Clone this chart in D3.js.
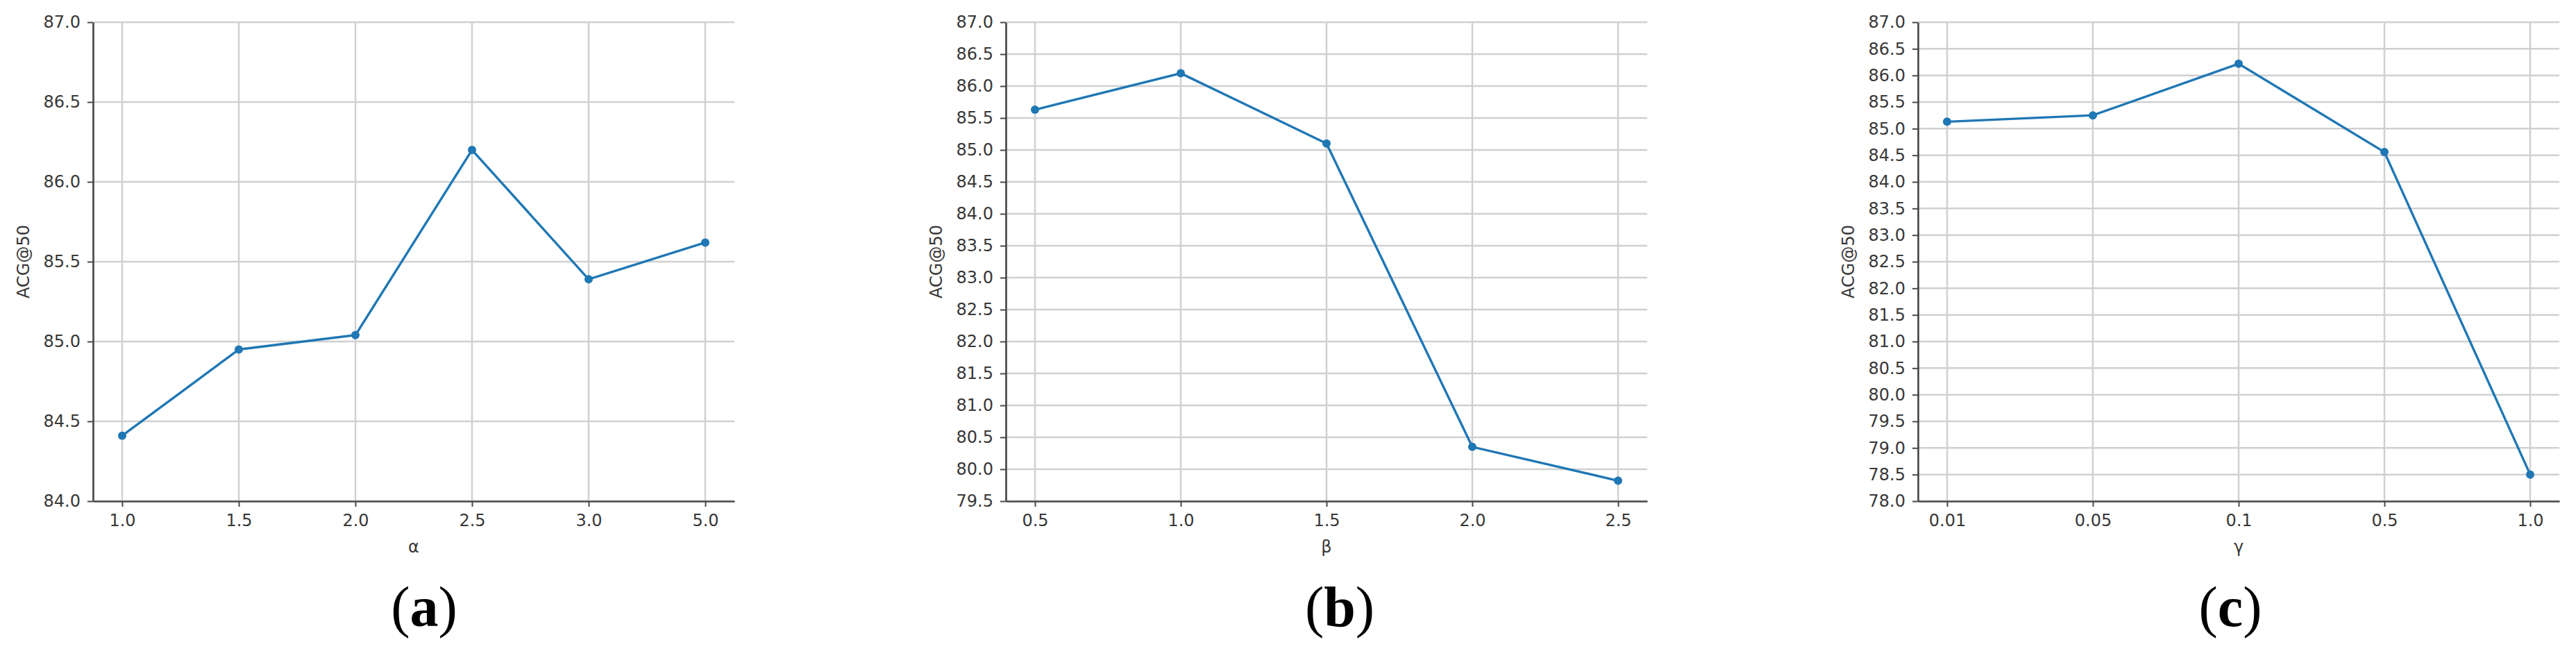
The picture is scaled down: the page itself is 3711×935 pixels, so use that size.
<!DOCTYPE html>
<html>
<head>
<meta charset="utf-8">
<script src="https://cdn.jsdelivr.net/npm/d3@7"></script>
<style>
    body { margin: 0; background: #fff; }
    text { font-family: "DejaVu Sans", sans-serif; }
</style>
</head>
<body>
<div id="main"></div>
<script>
// values
const alphaLabels = ["1.0", "1.5", "2.0", "2.5", "3.0", "5.0"];
const alphaScores = [84.41, 84.95, 85.04, 86.20, 85.39, 85.62];

const betaLabels = ["0.5", "1.0", "1.5", "2.0", "2.5"];
const betaScores = [85.63, 86.20, 85.10, 80.35, 79.82];

const gammaLabels = ["0.01", "0.05", "0.1", "0.5", "1.0"];
const gammaScores = [85.13, 85.25, 86.22, 84.56, 78.50];

const yRanges = [[84, 87], [79.5, 87], [78, 87]];
const axisNames = ["α", "β", "γ"];
const panelNames = ["a", "b", "c"];

const ctx = {
    w: 3711,
    h: 935,
    top: 32,
    bottom: 722,
    // plot left/right edge and panel label centre for each subplot
    lefts: [134, 1449, 2763],
    rights: [1058, 2373, 3687],
    tagX: [611, 1930, 3213],
    blue: "#1f77b4",
    grid: "#d0d0d0",
    ink: "#383838",
    font: 24,
};

function createViz() {
    let svg = d3.select("#main").append("svg")
        .attr("width", ctx.w)
        .attr("height", ctx.h);

    let panels = [
        { labels: alphaLabels, scores: alphaScores },
        { labels: betaLabels, scores: betaScores },
        { labels: gammaLabels, scores: gammaScores },
    ];

    panels.forEach((p, i) => drawPanel(svg, p, i));
}

function drawPanel(svg, p, i) {
    let left = ctx.lefts[i], right = ctx.rights[i];
    let g = svg.append("g").attr("class", "panel");

    // matplotlib style 5% margins on the category axis
    let x = d3.scalePoint()
        .domain(p.labels)
        .range([left, right])
        .padding(0.05 * (p.labels.length - 1));

    let y = d3.scaleLinear()
        .domain(yRanges[i])
        .range([ctx.bottom, ctx.top]);

    let yTicks = d3.range(yRanges[i][0], yRanges[i][1] + 0.001, 0.5);

    // grid
    g.append("g").selectAll("line.h")
        .data(yTicks)
        .enter().append("line")
        .attr("x1", left).attr("x2", right)
        .attr("y1", d => y(d)).attr("y2", d => y(d))
        .style("stroke", ctx.grid)
        .style("stroke-width", 2.5);

    g.append("g").selectAll("line.v")
        .data(p.labels)
        .enter().append("line")
        .attr("x1", d => x(d)).attr("x2", d => x(d))
        .attr("y1", ctx.top).attr("y2", ctx.bottom)
        .style("stroke", ctx.grid)
        .style("stroke-width", 2.5);

    // axes
    let xAxis = g.append("g")
        .attr("transform", `translate(0,${ctx.bottom})`)
        .call(d3.axisBottom(x).tickSize(8).tickPadding(11).tickSizeOuter(0));

    let yAxis = g.append("g")
        .attr("transform", `translate(${left},0)`)
        .call(d3.axisLeft(y).tickValues(yTicks).tickFormat(d3.format(".1f"))
            .tickSize(8).tickPadding(10).tickSizeOuter(0));

    [xAxis, yAxis].forEach(a => {
        a.select(".domain").style("stroke", "#4a4a4a").style("stroke-width", 2.7);
        a.selectAll(".tick line").style("stroke", "#4a4a4a").style("stroke-width", 2);
        a.selectAll(".tick text")
            .style("font-size", ctx.font + "px")
            .style("fill", ctx.ink)
            .style("font-family", "DejaVu Sans");
    });

    // line + markers
    let line = d3.line()
        .x((d, k) => x(p.labels[k]))
        .y(d => y(d));

    g.append("path")
        .datum(p.scores)
        .attr("d", line)
        .style("fill", "none")
        .style("stroke", ctx.blue)
        .style("stroke-width", 3.4);

    g.selectAll("circle")
        .data(p.scores)
        .enter().append("circle")
        .attr("cx", (d, k) => x(p.labels[k]))
        .attr("cy", d => y(d))
        .attr("r", 6)
        .style("fill", ctx.blue);

    // axis titles
    g.append("text")
        .attr("x", (left + right) / 2)
        .attr("y", 796)
        .attr("text-anchor", "middle")
        .style("font-size", ctx.font + "px")
        .style("fill", ctx.ink)
        .text(axisNames[i]);

    g.append("text")
        .attr("transform", `translate(${left - 92},${(ctx.top + ctx.bottom) / 2}) rotate(-90)`)
        .attr("text-anchor", "middle")
        .style("font-size", ctx.font + "px")
        .style("fill", ctx.ink)
        .text("ACG@50");

    // panel tag (a) (b) (c)
    let tag = g.append("text")
        .attr("x", ctx.tagX[i])
        .attr("y", 902)
        .attr("text-anchor", "middle")
        .style("font-family", "Liberation Serif, serif")
        .style("font-size", "82px")
        .style("fill", "#000");
    tag.append("tspan").text("(");
    tag.append("tspan").style("font-weight", "bold").text(panelNames[i]);
    tag.append("tspan").text(")");
}

createViz();
</script>
</body>
</html>
